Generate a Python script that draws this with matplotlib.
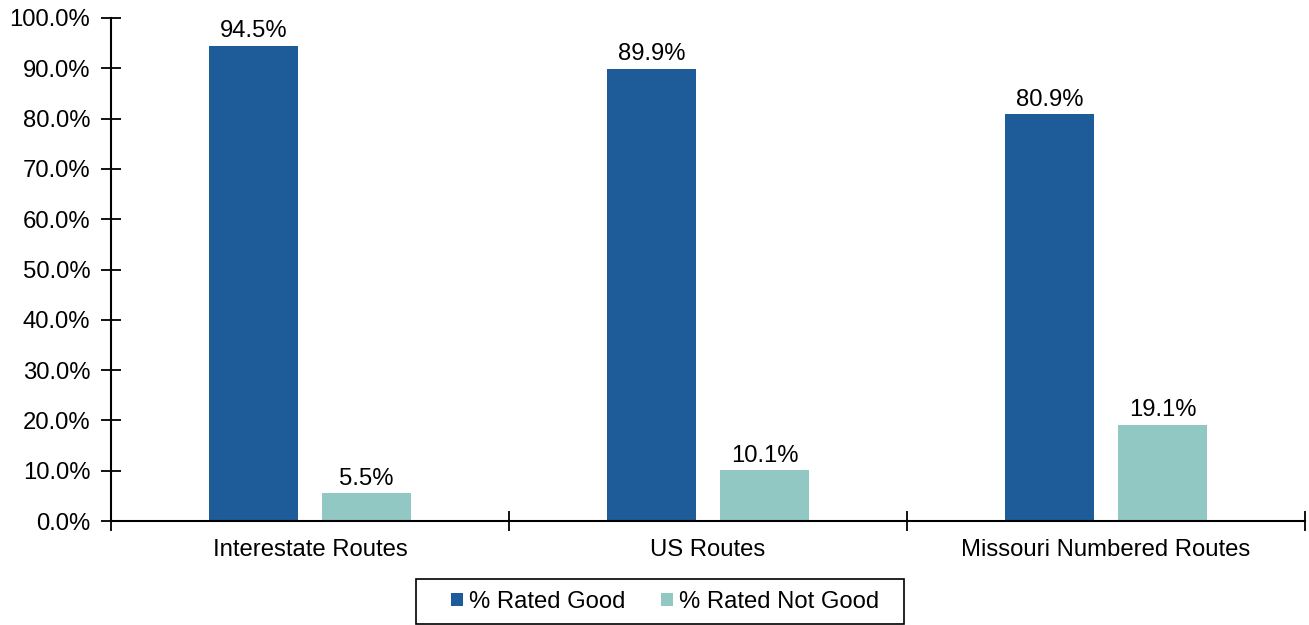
import matplotlib.pyplot as plt
from matplotlib.patches import Rectangle
from matplotlib.ticker import FixedLocator, PercentFormatter
import numpy as np

plt.rcParams['font.family'] = ['Liberation Sans', 'DejaVu Sans']

categories = ['Interestate Routes', 'US Routes', 'Missouri Numbered Routes']
rated_good = [94.5, 89.9, 80.9]
rated_not_good = [5.5, 10.1, 19.1]
series_names = ['% Rated Good', '% Rated Not Good']
colors = ['#1d5c99', '#92c8c4']

fs = 17.2
W, H = 1309, 625

fig = plt.figure(figsize=(W / 100, H / 100), dpi=100)
ax = fig.add_axes([0.0848, 0.1664, 0.9122, 0.8048])

x = np.arange(len(categories))
w = 0.224
off = 0.142
b1 = ax.bar(x - off, rated_good, w, color=colors[0], label=series_names[0])
b2 = ax.bar(x + off, rated_not_good, w, color=colors[1], label=series_names[1])

for bars, vals in ((b1, rated_good), (b2, rated_not_good)):
    for rect, v in zip(bars, vals):
        ax.text(rect.get_x() + rect.get_width() / 2, v + 0.7, f'{v:.1f}%',
                ha='center', va='bottom', fontsize=fs)

ax.set_xlim(-0.5, len(categories) - 0.5)
ax.set_ylim(0, 100)
ax.yaxis.set_major_locator(FixedLocator(np.arange(0, 101, 10)))
ax.yaxis.set_major_formatter(PercentFormatter(decimals=1))

ax.set_xticks(x)
ax.set_xticklabels(categories)
ax.xaxis.set_minor_locator(FixedLocator(np.arange(-0.5, len(categories), 1.0)))
ax.tick_params(axis='x', which='major', length=0, labelsize=fs, pad=13)
ax.tick_params(axis='x', which='minor', direction='inout', length=14, width=1.3)
ax.tick_params(axis='y', direction='inout', length=14, width=1.3, labelsize=fs, pad=8)

for s in ('top', 'right'):
    ax.spines[s].set_visible(False)
for s in ('left', 'bottom'):
    ax.spines[s].set_linewidth(1.5)

# legend without frame, box drawn separately to get the wide side padding
leg = fig.legend(handles=[b1, b2], labels=series_names,
                 loc='center', bbox_to_anchor=(665 / W, 1 - 602 / H), ncol=2,
                 frameon=False, fontsize=fs,
                 handlelength=0.5, handleheight=0.5, handletextpad=0.25,
                 columnspacing=1.5, borderpad=0, borderaxespad=0)
fig.patches.append(Rectangle((416 / W, 1 / H), 488 / W, 45 / H,
                             transform=fig.transFigure, fill=False,
                             edgecolor='black', linewidth=1.2))

fig.savefig('out.png', dpi=100)
